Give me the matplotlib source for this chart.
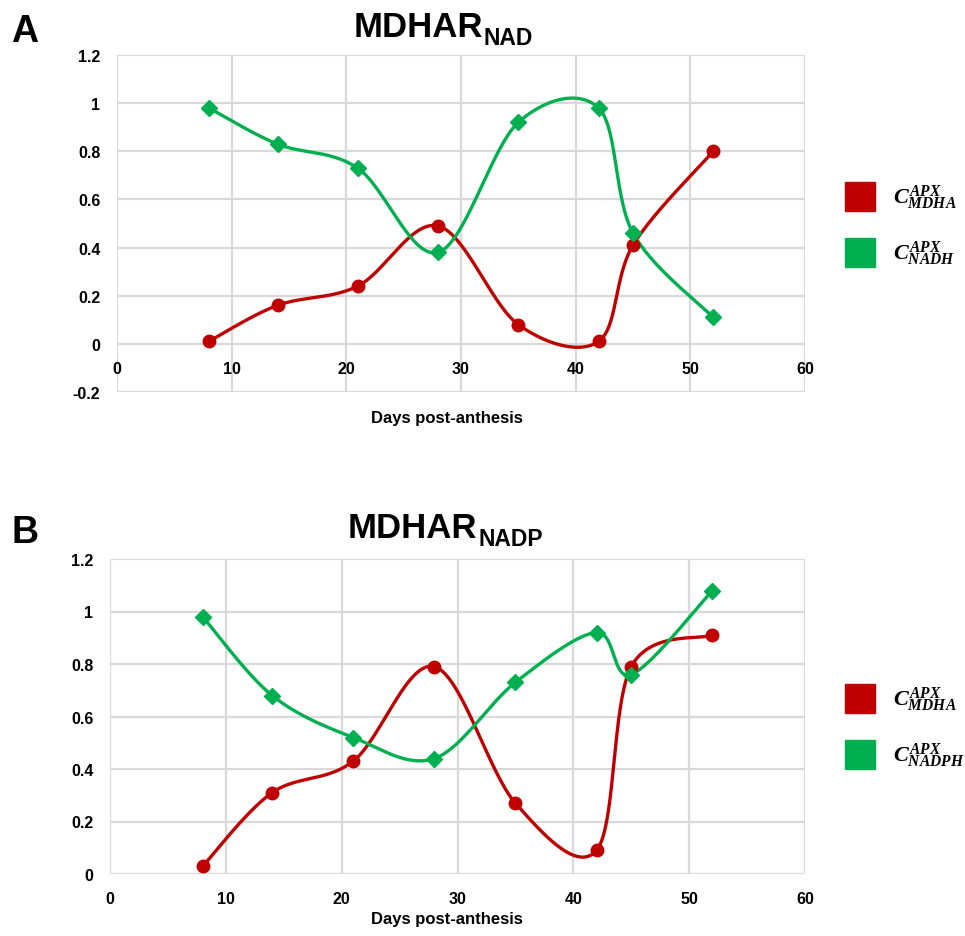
import matplotlib

matplotlib.use("Agg")
import numpy as np
from matplotlib import pyplot as plt
from matplotlib.patches import Rectangle

days = [8, 14, 21, 28, 35, 42, 45, 52]

# panel A: MDHAR(NAD)
nad_mdha = [0.01, 0.16, 0.24, 0.49, 0.08, 0.01, 0.41, 0.80]
nad_nadh = [0.98, 0.83, 0.73, 0.38, 0.92, 0.98, 0.46, 0.11]

# panel B: MDHAR(NADP)
nadp_mdha = [0.03, 0.31, 0.43, 0.79, 0.27, 0.09, 0.79, 0.91]
nadp_nadph = [0.98, 0.68, 0.52, 0.44, 0.73, 0.92, 0.76, 1.08]

x_ticks = [0, 10, 20, 30, 40, 50, 60]
y_ticks_a = [-0.2, 0, 0.2, 0.4, 0.6, 0.8, 1.0, 1.2]
y_labels_a = ["-0.2", "0", "0.2", "0.4", "0.6", "0.8", "1", "1.2"]
y_ticks_b = [0, 0.2, 0.4, 0.6, 0.8, 1.0, 1.2]
y_labels_b = ["0", "0.2", "0.4", "0.6", "0.8", "1", "1.2"]

RED = "#C00000"
GREEN = "#00B050"
GRID = "#D9D9D9"
W, H = 965, 937

plt.rcParams["font.family"] = ["Liberation Sans", "DejaVu Sans"]
plt.rcParams["mathtext.fontset"] = "custom"
plt.rcParams["mathtext.it"] = "Liberation Serif:italic:bold"
plt.rcParams["mathtext.rm"] = "Liberation Serif:bold"


def smooth(x, y, n=60):
    # Excel-like smoothed line: cubic Bezier through the points (Catmull-Rom)
    pts = np.column_stack([x, y]).astype(float)
    ext = np.vstack([pts[0], pts, pts[-1]])
    t = np.linspace(0, 1, n)[:, None]
    segs = []
    for i in range(len(pts) - 1):
        p0, p1, p2, p3 = ext[i], ext[i + 1], ext[i + 2], ext[i + 3]
        c1 = p1 + (p2 - p0) / 6
        c2 = p2 - (p3 - p1) / 6
        segs.append((1 - t) ** 3 * p1 + 3 * (1 - t) ** 2 * t * c1 + 3 * (1 - t) * t ** 2 * c2 + t ** 3 * p2)
    out = np.vstack(segs)
    return out[:, 0], out[:, 1]


def fig_rect(left, top, right, bottom):
    return [left / W, 1 - bottom / H, (right - left) / W, (bottom - top) / H]


def draw_panel(ax, red_vals, green_vals, yticks, ylabels, ylim):
    ax.set_xlim(0, 60)
    ax.set_ylim(*ylim)
    ax.set_xticks(x_ticks)
    ax.set_yticks(yticks)
    ax.set_yticklabels(ylabels)
    ax.grid(True, color=GRID, linewidth=1.6)
    ax.set_axisbelow(True)
    for side in ax.spines:
        ax.spines[side].set_visible(False)
    ax.spines["bottom"].set_position(("data", 0))
    ax.tick_params(length=0, labelsize=11.5, pad=12)
    for lab in ax.get_xticklabels() + ax.get_yticklabels():
        lab.set_fontweight("bold")

    sx, sy = smooth(days, red_vals)
    ax.plot(sx, sy, color=RED, linewidth=2.4, zorder=3)
    ax.plot(days, red_vals, "o", color=RED, markersize=9, zorder=4)
    sx, sy = smooth(days, green_vals)
    ax.plot(sx, sy, color=GREEN, linewidth=2.4, zorder=3)
    ax.plot(days, green_vals, "D", color=GREEN, markersize=8.5, zorder=4)


def title(fig, left, baseline, sub_left, sub):
    fig.text(left / W, 1 - baseline / H, "MDHAR", fontsize=25, fontweight="bold", va="baseline")
    fig.text(sub_left / W, 1 - (baseline + 8) / H, sub, fontsize=16.5, fontweight="bold",
             va="baseline")


def legend(fig, top, labels):
    for i, (color, label) in enumerate(zip([RED, GREEN], labels)):
        y0 = top + i * 56
        fig.add_artist(Rectangle((845 / W, 1 - (y0 + 29) / H), 30 / W, 29 / H,
                                 transform=fig.transFigure, color=color))
        fig.text(893 / W, 1 - (y0 + 15) / H, label, fontsize=16, va="center", ha="left")


fig = plt.figure(figsize=(W / 100, H / 100), dpi=100)

ax_a = fig.add_axes(fig_rect(117, 56, 805, 393))
draw_panel(ax_a, nad_mdha, nad_nadh, y_ticks_a, y_labels_a, (-0.2, 1.2))
ax_b = fig.add_axes(fig_rect(110, 560, 805, 875))
draw_panel(ax_b, nadp_mdha, nadp_nadph, y_ticks_b, y_labels_b, (0, 1.2))

fig.text(11 / W, 1 - 42 / H, "A", fontsize=27, fontweight="bold", va="baseline")
fig.text(11 / W, 1 - 543 / H, "B", fontsize=27, fontweight="bold", va="baseline")

title(fig, 354, 37, 484, "NAD")
title(fig, 348, 538, 478, "NADP")

fig.text(447 / W, 1 - 418 / H, "Days post-anthesis", fontsize=12, fontweight="bold",
         ha="center", va="center")
fig.text(447 / W, 1 - 920 / H, "Days post-anthesis", fontsize=12, fontweight="bold",
         ha="center", va="center")

legend(fig, 183, [r"$C^{APX}_{MDHA}$", r"$C^{APX}_{NADH}$"])
legend(fig, 685, [r"$C^{APX}_{MDHA}$", r"$C^{APX}_{NADPH}$"])

fig.savefig("out.png", dpi=100)
plt.close(fig)
